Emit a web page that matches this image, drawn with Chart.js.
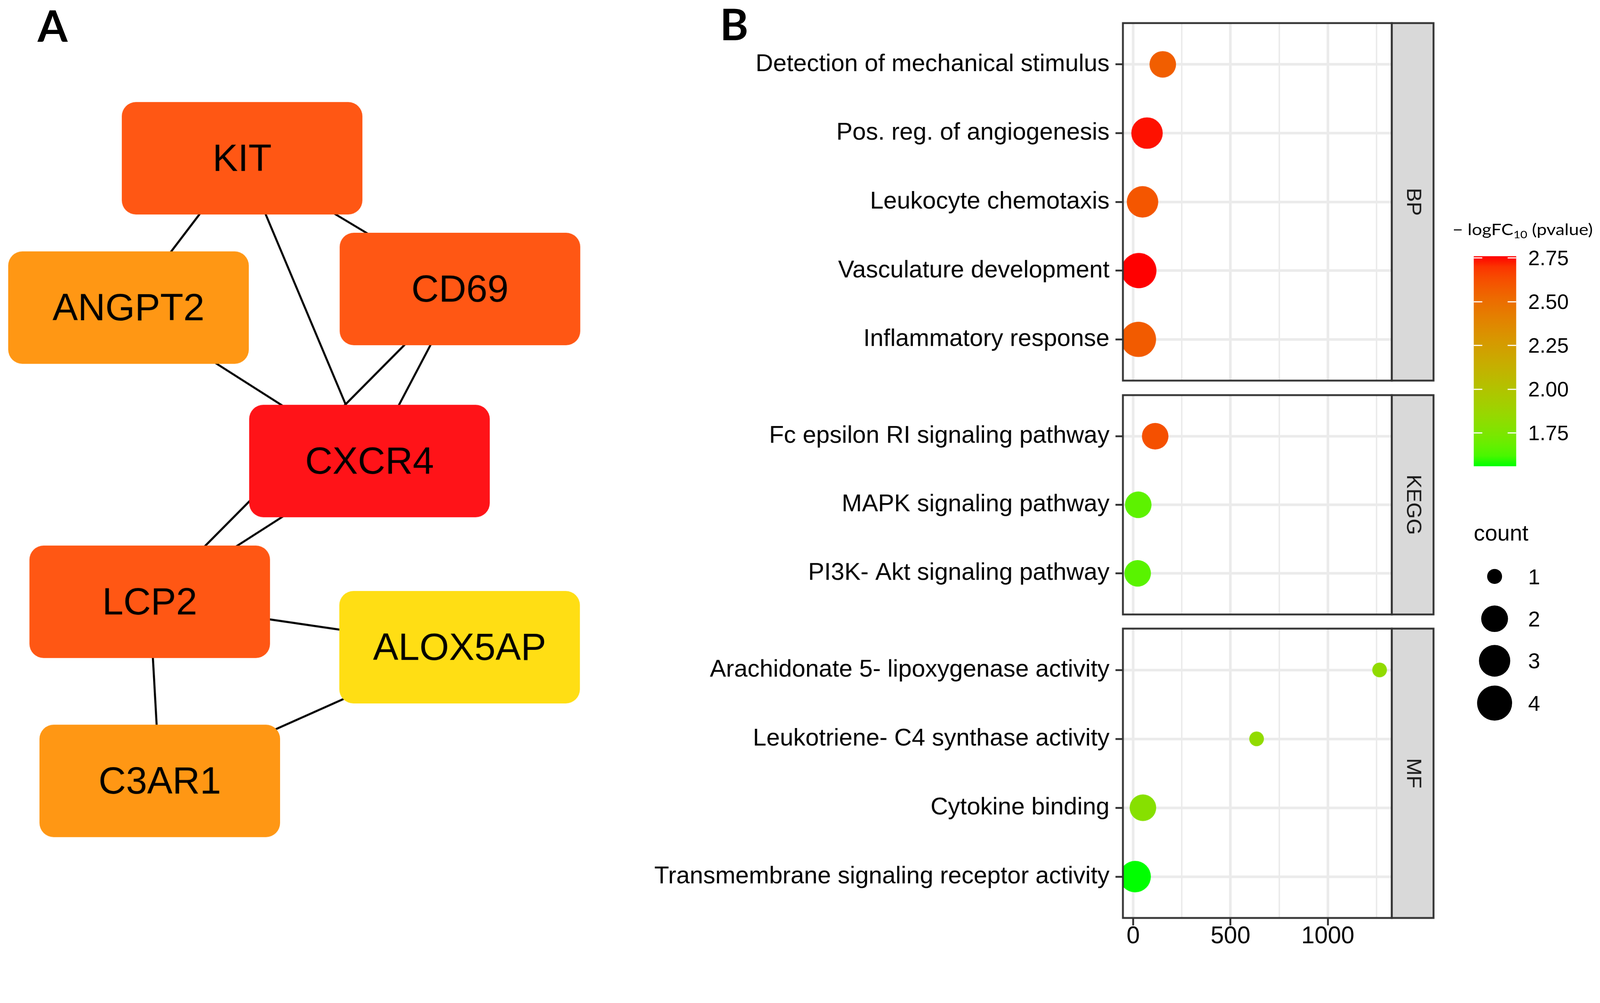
<!DOCTYPE html>
<html>
<head>
<meta charset="utf-8">
<script src="https://cdn.jsdelivr.net/npm/chart.js@4.4.0/dist/chart.umd.min.js"></script>
<style>
  html, body { margin: 0; padding: 0; background: #fff; overflow: hidden; }
  #page { width: 4296px; height: 2568px; position: absolute; left: 0; top: 0; transform-origin: 0 0;
    font-family: "Liberation Sans", Arial, sans-serif; background: #fff; }
  canvas { position: absolute; }
  .tag { position: absolute; font-family: Lato, sans-serif; font-weight: bold; font-size: 116px; line-height: 116px; }
  .lg { position: absolute; white-space: nowrap; color: #000; }
</style>
</head>
<body>
<div id="page">
<div class="tag" style="left:101px;top:10px">A</div>
<div class="tag" style="left:1933px;top:6px">B</div>
<canvas id="net" width="1650" height="2568" style="left:0;top:0"></canvas>
<canvas id="bp" width="2160" height="968" style="left:1700px;top:58px"></canvas>
<canvas id="kegg" width="2160" height="597" style="left:1700px;top:1057px"></canvas>
<canvas id="mf" width="2160" height="881" style="left:1700px;top:1684px"></canvas>
<div id="legend"></div>
</div>
<script>
// ---- panel A: interaction network ----
const nodeNames = ['KIT', 'ANGPT2', 'CD69', 'CXCR4', 'LCP2', 'ALOX5AP', 'C3AR1'];
const nodeX = [650, 345, 1235, 992, 402, 1234, 429];
const nodeY = [425, 826, 776, 1238, 1616, 1738, 2097];
const edgeFrom = ['KIT', 'KIT', 'KIT', 'ANGPT2', 'CD69', 'CD69', 'CXCR4', 'LCP2', 'LCP2', 'C3AR1'];
const edgeTo = ['ANGPT2', 'CXCR4', 'CD69', 'CXCR4', 'CXCR4', 'LCP2', 'LCP2', 'ALOX5AP', 'C3AR1', 'ALOX5AP'];

// ---- panel B: enrichment dot plot ----
const bpTerms = ['Detection of mechanical stimulus', 'Pos. reg. of angiogenesis', 'Leukocyte chemotaxis',
  'Vasculature development', 'Inflammatory response'];
const bpValue = [152, 71, 48, 29, 27];
const bpCount = [2, 3, 3, 4, 4];
const bpLogP = [2.57, 2.75, 2.60, 2.76, 2.58];

const keggTerms = ['Fc epsilon RI signaling pathway', 'MAPK signaling pathway', 'PI3K- Akt signaling pathway'];
const keggValue = [113, 26, 23];
const keggCount = [2, 2, 2];
const keggLogP = [2.62, 1.66, 1.65];

const mfTerms = ['Arachidonate 5- lipoxygenase activity', 'Leukotriene- C4 synthase activity', 'Cytokine binding',
  'Transmembrane signaling receptor activity'];
const mfValue = [1266, 634, 50, 10];
const mfCount = [1, 1, 2, 3];
const mfLogP = [1.83, 1.83, 1.79, 1.56];

const xTicks = [0, 500, 1000];
const colorTicks = [2.75, 2.50, 2.25, 2.00, 1.75];
const countLevels = [1, 2, 3, 4];

// styles
const nodeFill = { KIT: '#FF5714', ANGPT2: '#FF9714', CD69: '#FF5714', CXCR4: '#FF1318',
  LCP2: '#FF5714', ALOX5AP: '#FFDE14', C3AR1: '#FF9714' };
const NODE_W = 646, NODE_H = 302;
const LOW = '#00FF00', HIGH = '#FF0000';
const R_MIN = 19.7, R_MAX = 47.3;

// fit the 4296x2568 layout into whatever viewport we get
const fit = Math.min(window.innerWidth / 4296, window.innerHeight / 2568) || 1;
document.getElementById('page').style.transform = 'scale(' + fit + ')';

Chart.defaults.font.family = "'Liberation Sans', Arial, sans-serif";
Chart.defaults.color = '#000';

// colour scale: Lab interpolation like ggplot's gradient
function toLab(hex) {
  const lin = c => (c <= 0.04045 ? c / 12.92 : Math.pow((c + 0.055) / 1.055, 2.4));
  const r = lin(parseInt(hex.slice(1, 3), 16) / 255);
  const g = lin(parseInt(hex.slice(3, 5), 16) / 255);
  const b = lin(parseInt(hex.slice(5, 7), 16) / 255);
  const X = (0.4124 * r + 0.3576 * g + 0.1805 * b) / 0.95047;
  const Y = 0.2126 * r + 0.7152 * g + 0.0722 * b;
  const Z = (0.0193 * r + 0.1192 * g + 0.9505 * b) / 1.08883;
  const f = t => (t > 0.008856 ? Math.cbrt(t) : 7.787 * t + 16 / 116);
  return [116 * f(Y) - 16, 500 * (f(X) - f(Y)), 200 * (f(Y) - f(Z))];
}
function fromLab(L, a, b) {
  const fy = (L + 16) / 116, fx = fy + a / 500, fz = fy - b / 200;
  const inv = t => (t * t * t > 0.008856 ? t * t * t : (t - 16 / 116) / 7.787);
  const X = 0.95047 * inv(fx), Y = inv(fy), Z = 1.08883 * inv(fz);
  const rgb = [3.2406 * X - 1.5372 * Y - 0.4986 * Z,
    -0.9689 * X + 1.8758 * Y + 0.0415 * Z,
    0.0557 * X - 0.2040 * Y + 1.0570 * Z];
  return 'rgb(' + rgb.map(c => {
    c = c <= 0.0031308 ? 12.92 * c : 1.055 * Math.pow(c, 1 / 2.4) - 0.055;
    return Math.round(Math.min(1, Math.max(0, c)) * 255);
  }).join(',') + ')';
}
const labLow = toLab(LOW), labHigh = toLab(HIGH);
const allLogP = bpLogP.concat(keggLogP, mfLogP);
const pMin = Math.min(...allLogP), pMax = Math.max(...allLogP);
function colorFor(v) {
  const t = (v - pMin) / (pMax - pMin);
  return fromLab(...labLow.map((l, i) => l + (labHigh[i] - l) * t));
}
const allCount = bpCount.concat(keggCount, mfCount);
const cMin = Math.min(...allCount), cMax = Math.max(...allCount);
function sizeFor(c) {
  return R_MIN + (R_MAX - R_MIN) * Math.sqrt((c - cMin) / (cMax - cMin));
}
const allValue = bpValue.concat(keggValue, mfValue);
const vMin = Math.min(...allValue), vMax = Math.max(...allValue);
const xMin = vMin - 0.05 * (vMax - vMin), xMax = vMax + 0.05 * (vMax - vMin);

// ---- network chart ----
const nodeImgs = nodeNames.map(n => {
  const c = document.createElement('canvas');
  c.width = NODE_W; c.height = NODE_H;
  const g = c.getContext('2d');
  g.fillStyle = nodeFill[n];
  g.beginPath();
  g.roundRect(0, 0, NODE_W, NODE_H, 38);
  g.fill();
  return c;
});

const nodeLabels = {
  id: 'nodeLabels',
  afterDatasetsDraw(chart) {
    const ctx = chart.ctx;
    const meta = chart.getDatasetMeta(0);
    ctx.save();
    ctx.font = "102px 'Liberation Sans', Arial";
    ctx.fillStyle = '#000';
    ctx.textAlign = 'center';
    ctx.textBaseline = 'middle';
    meta.data.forEach((pt, i) => ctx.fillText(nodeNames[i], pt.x, pt.y + 6));
    ctx.restore();
  }
};

const edgeSets = edgeFrom.map((a, i) => {
  const ia = nodeNames.indexOf(a), ib = nodeNames.indexOf(edgeTo[i]);
  return {
    type: 'scatter',
    data: [{ x: nodeX[ia], y: nodeY[ia] }, { x: nodeX[ib], y: nodeY[ib] }],
    showLine: true, borderColor: '#000', borderWidth: 5.5, pointRadius: 0, order: 2
  };
});

new Chart(document.getElementById('net'), {
  type: 'scatter',
  data: {
    datasets: [{
      data: nodeNames.map((n, i) => ({ x: nodeX[i], y: nodeY[i] })),
      pointStyle: nodeImgs, pointRadius: 10, order: 1
    }].concat(edgeSets)
  },
  options: {
    responsive: false, animation: false, events: [],
    layout: { autoPadding: false },
    plugins: { legend: { display: false }, tooltip: { enabled: false } },
    scales: {
      x: { type: 'linear', min: 0, max: 1650, display: false },
      y: { type: 'linear', min: 0, max: 2568, reverse: true, display: false }
    }
  },
  plugins: [nodeLabels]
});

// ---- facet charts ----
const facetFrame = {
  id: 'facetFrame',
  afterDraw(chart, args, opts) {
    const { ctx, chartArea: a } = chart;
    const sw = 112;
    ctx.save();
    ctx.lineWidth = 5;
    ctx.strokeStyle = '#333';
    ctx.strokeRect(a.left, a.top, a.right - a.left, a.bottom - a.top);
    ctx.fillStyle = '#D9D9D9';
    ctx.fillRect(a.right, a.top, sw, a.bottom - a.top);
    ctx.strokeRect(a.right, a.top, sw, a.bottom - a.top);
    ctx.translate(a.right + sw / 2, (a.top + a.bottom) / 2);
    ctx.rotate(Math.PI / 2);
    ctx.fillStyle = '#1A1A1A';
    ctx.font = "56px 'Liberation Sans', Arial";
    ctx.textAlign = 'center';
    ctx.textBaseline = 'middle';
    ctx.fillText(opts.label, 0, 0);
    ctx.restore();
  }
};

function facetChart(id, strip, terms, values, counts, logp, showX) {
  const n = terms.length;
  return new Chart(document.getElementById(id), {
    type: 'bubble',
    data: {
      datasets: [{
        data: terms.map((t, i) => ({ x: values[i], y: i, r: sizeFor(counts[i]) })),
        backgroundColor: logp.map(colorFor),
        borderWidth: 0,
        clip: 0
      }]
    },
    options: {
      responsive: false, animation: false, events: [],
      layout: { autoPadding: false, padding: { top: 4, bottom: showX ? 0 : 4, right: 123 } },
      plugins: { legend: { display: false }, tooltip: { enabled: false }, facetFrame: { label: strip } },
      scales: {
        x: {
          type: 'linear', min: xMin, max: xMax,
          ticks: {
            stepSize: 250, includeBounds: false, display: showX, autoSkip: false, maxRotation: 0,
            padding: -8, font: { size: 64 },
            callback: v => (xTicks.includes(v) ? String(v) : '')
          },
          grid: {
            color: '#EBEBEB',
            lineWidth: c => (xTicks.includes(c.tick.value) ? 7 : 4),
            drawTicks: showX, tickLength: 20, tickWidth: 5,
            tickColor: c => (xTicks.includes(c.tick.value) ? '#333' : 'rgba(0,0,0,0)')
          },
          border: { display: false },
          afterFit: s => { s.height = showX ? 100 : 0; s.paddingLeft = 0; s.paddingRight = 0; }
        },
        y: {
          type: 'linear', reverse: true, min: -0.6, max: n - 0.4,
          ticks: {
            stepSize: 1, includeBounds: false, autoSkip: false, padding: 16, font: { size: 65 },
            callback: v => terms[v] ?? ''
          },
          grid: { color: '#EBEBEB', lineWidth: 7, tickLength: 20, tickWidth: 5, tickColor: '#333' },
          border: { display: false },
          afterFit: s => { s.width = 1315; s.paddingTop = 0; s.paddingBottom = 0; }
        }
      }
    },
    plugins: [facetFrame]
  });
}

facetChart('bp', 'BP', bpTerms, bpValue, bpCount, bpLogP, false);
facetChart('kegg', 'KEGG', keggTerms, keggValue, keggCount, keggLogP, false);
facetChart('mf', 'MF', mfTerms, mfValue, mfCount, mfLogP, true);

// ---- legends ----
const legend = document.getElementById('legend');
function add(html, style) {
  const d = document.createElement('div');
  d.className = 'lg';
  d.innerHTML = html;
  Object.assign(d.style, style);
  legend.appendChild(d);
  return d;
}
const BAR_TOP = 688, BAR_H = 564, BAR_L = 3957, BAR_W = 114;
const title = add('\u2212 logFC<sub style="font-size:28px;vertical-align:-9px">10</sub> (pvalue)',
  { left: '3900px', top: '594px', font: "42px Lato, sans-serif", lineHeight: '42px', transformOrigin: '0 0' });
title.style.transform = 'scaleX(' + (377 / title.offsetWidth) + ')';
const stops = [];
for (let k = 0; k <= 20; k++) stops.push(colorFor(pMax - (pMax - pMin) * k / 20) + ' ' + (k * 5) + '%');
add('', { left: BAR_L + 'px', top: BAR_TOP + 'px', width: BAR_W + 'px', height: BAR_H + 'px',
  background: 'linear-gradient(to bottom,' + stops.join(',') + ')' });
colorTicks.forEach(v => {
  const y = BAR_TOP + (pMax - v) / (pMax - pMin) * BAR_H;
  add('', { left: BAR_L + 'px', top: (y - 1.5) + 'px', width: '23px', height: '3px', background: '#fff' });
  add('', { left: (BAR_L + BAR_W - 23) + 'px', top: (y - 1.5) + 'px', width: '23px', height: '3px', background: '#fff' });
  add(v.toFixed(2), { left: '4103px', top: (y - 27.4) + 'px', fontSize: '56px', lineHeight: '56px' });
});
add('count', { left: '3957px', top: '1402px', fontSize: '60px', lineHeight: '60px' });
countLevels.forEach((c, i) => {
  const y = 1548 + i * 113.3, r = sizeFor(c);
  add('', { left: (4013 - r) + 'px', top: (y - r) + 'px', width: 2 * r + 'px', height: 2 * r + 'px',
    borderRadius: '50%', background: '#000' });
  add(String(c), { left: '4103px', top: (y - 28.3) + 'px', fontSize: '58px', lineHeight: '58px' });
});
</script>
</body>
</html>
